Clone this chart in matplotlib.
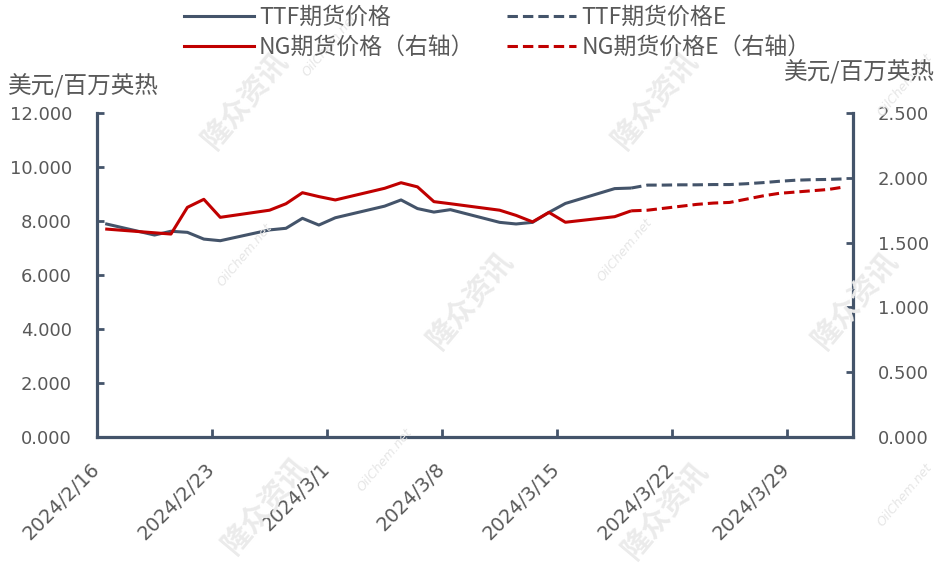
import numpy as np
import matplotlib
matplotlib.use("Agg")
import matplotlib.pyplot as plt
from matplotlib.lines import Line2D
from matplotlib.transforms import ScaledTranslation
import pandas as pd

# ---------------- data ----------------
ttf_dates = ["2024-02-16", "2024-02-19", "2024-02-20", "2024-02-21", "2024-02-22", "2024-02-23",
             "2024-02-26", "2024-02-27", "2024-02-28", "2024-02-29", "2024-03-01",
             "2024-03-04", "2024-03-05", "2024-03-06", "2024-03-07", "2024-03-08",
             "2024-03-11", "2024-03-12", "2024-03-13", "2024-03-14", "2024-03-15",
             "2024-03-18", "2024-03-19"]
ttf_values = [7.90, 7.48, 7.62, 7.58, 7.33, 7.27,
              7.67, 7.73, 8.10, 7.85, 8.12,
              8.55, 8.78, 8.46, 8.33, 8.42,
              7.95, 7.89, 7.95, 8.32, 8.65,
              9.20, 9.22]

ng_dates = ["2024-02-16", "2024-02-20", "2024-02-21", "2024-02-22", "2024-02-23",
            "2024-02-26", "2024-02-27", "2024-02-28", "2024-02-29", "2024-03-01",
            "2024-03-04", "2024-03-05", "2024-03-06", "2024-03-07", "2024-03-08",
            "2024-03-11", "2024-03-12", "2024-03-13", "2024-03-14", "2024-03-15",
            "2024-03-18", "2024-03-19"]
ng_values = [1.605, 1.566, 1.772, 1.834, 1.695,
             1.750, 1.800, 1.885, 1.855, 1.829,
             1.919, 1.962, 1.930, 1.816, 1.800,
             1.750, 1.710, 1.660, 1.733, 1.657,
             1.700, 1.745]

e_dates = ["2024-03-19", "2024-03-20", "2024-03-21", "2024-03-22", "2024-03-23", "2024-03-24",
           "2024-03-25", "2024-03-26", "2024-03-27", "2024-03-28", "2024-03-29", "2024-03-30",
           "2024-03-31", "2024-04-01"]
ttf_e_values = [9.22, 9.33, 9.33, 9.34, 9.34, 9.35, 9.35, 9.38, 9.42, 9.47, 9.51, 9.53, 9.54, 9.56]
ng_e_values = [1.745, 1.750, 1.765, 1.780, 1.795, 1.805, 1.810, 1.835, 1.860, 1.880, 1.890, 1.900,
               1.910, 1.930]

tick_dates = ["2024-02-16", "2024-02-23", "2024-03-01", "2024-03-08", "2024-03-15",
              "2024-03-22", "2024-03-29"]
tick_labels = ["2024/2/16", "2024/2/23", "2024/3/1", "2024/3/8", "2024/3/15",
               "2024/3/22", "2024/3/29"]

series_labels = ["TTF期货价格", "NG期货价格（右轴）", "TTF期货价格E", "NG期货价格E（右轴）"]
unit_label = "美元/百万英热"

# ---------------- style ----------------
plt.rcParams['font.family'] = ['DejaVu Sans', 'Noto Sans CJK SC']
plt.rcParams['lines.scale_dashes'] = False
CJK = ['Noto Sans CJK SC', 'DejaVu Sans']
DARK = '#44546A'
RED = '#C00000'
GREY = '#595959'
LW = 2.2
DASH = (0, (7.5, 3.6))

fig = plt.figure(figsize=(9.4, 5.64), dpi=100)
ax = fig.add_axes([97 / 940, 1 - 437 / 564, (853 - 97) / 940, (437 - 113) / 564])
ax2 = ax.twinx()

td = pd.to_datetime(ttf_dates)
nd = pd.to_datetime(ng_dates)
ed = pd.to_datetime(e_dates)

ax.plot(td, ttf_values, color=DARK, lw=LW, solid_capstyle='butt', zorder=3)
ax.plot(ed, ttf_e_values, color=DARK, lw=LW, linestyle=DASH, zorder=3)
ax2.plot(nd, ng_values, color=RED, lw=LW, solid_capstyle='butt', zorder=3)
ax2.plot(ed, ng_e_values, color=RED, lw=LW, linestyle=DASH, zorder=3)

half = pd.Timedelta(hours=12)
start = pd.Timestamp("2024-02-16") - half
end = pd.Timestamp("2024-04-01") + half
ax.set_xlim(start, end)

tpos = pd.to_datetime(tick_dates) - half
ax.set_xticks(tpos)
ax.set_xticklabels(tick_labels, rotation=45, ha='right', va='center', rotation_mode='anchor')
offset = ScaledTranslation(16 / 72, 0, fig.dpi_scale_trans)
for lab in ax.get_xticklabels():
    lab.set_transform(lab.get_transform() + offset)

ax.set_ylim(0, 12)
ax.set_yticks(np.arange(0, 12.01, 2))
ax.yaxis.set_major_formatter(matplotlib.ticker.FuncFormatter(lambda v, p: f"{v:.3f}"))
ax2.set_ylim(0, 2.5)
ax2.set_yticks(np.arange(0, 2.501, 0.5))
ax2.yaxis.set_major_formatter(matplotlib.ticker.FuncFormatter(lambda v, p: f"{v:.3f}"))

for a in (ax, ax2):
    for s in a.spines.values():
        s.set_visible(False)
ax.spines['left'].set_visible(True)
ax.spines['bottom'].set_visible(True)
ax2.spines['right'].set_visible(True)
for s in (ax.spines['left'], ax.spines['bottom'], ax2.spines['right']):
    s.set_color(DARK)
    s.set_linewidth(2.3)

ax.tick_params(axis='y', direction='in', length=5, width=2, color=DARK,
               labelcolor=GREY, labelsize=13, pad=18)
ax.tick_params(axis='x', direction='in', length=6, width=2, color=DARK,
               labelcolor=GREY, labelsize=14, pad=21)
ax2.tick_params(axis='y', direction='in', length=5, width=2, color=DARK,
                labelcolor=GREY, labelsize=13, pad=18)

fig.text(8 / 940, 1 - 86 / 564, unit_label, ha='left', va='center', fontsize=17,
         color=GREY, family=CJK)
fig.text(935 / 940, 1 - 72 / 564, unit_label, ha='right', va='center', fontsize=17,
         color=GREY, family=CJK)

handles = [Line2D([], [], color=DARK, lw=LW),
           Line2D([], [], color=RED, lw=LW),
           Line2D([], [], color=DARK, lw=LW, linestyle=DASH),
           Line2D([], [], color=RED, lw=LW, linestyle=DASH)]
leg = fig.legend(handles, series_labels, ncol=2, loc='upper left',
                 bbox_to_anchor=(184 / 940, 1 - 6 / 564), frameon=False,
                 prop={'family': CJK, 'size': 16.5}, handlelength=3.05, handletextpad=0.22,
                 columnspacing=1.4, labelspacing=0.3, borderpad=0, borderaxespad=0)
for t in leg.get_texts():
    t.set_color(GREY)

# faint watermarks
wm_big = [(245, 100), (655, 100), (470, 300), (855, 300), (265, 505), (665, 510)]
wm_small = [(330, 45), (905, 85), (245, 255), (625, 250), (385, 460), (905, 495)]
for x, y in wm_big:
    fig.text(x / 940, 1 - y / 564, "隆众资讯", ha='center', va='center', rotation=50,
             fontsize=21, fontweight='bold', color='#EBEBEB', family=CJK, zorder=0)
for x, y in wm_small:
    fig.text(x / 940, 1 - y / 564, "OilChem.net", ha='center', va='center', rotation=50,
             fontsize=9, style='italic', color='#E6E6E6', zorder=0)

fig.savefig("out.png", dpi=100)
